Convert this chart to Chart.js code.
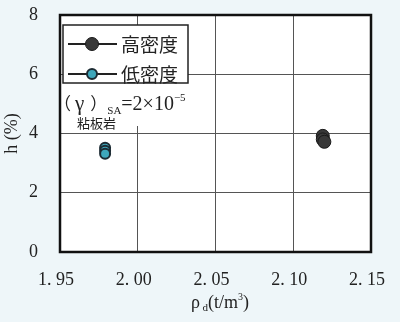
<!DOCTYPE html>
<html>
<head>
<meta charset="utf-8">
<script src="https://cdn.jsdelivr.net/npm/chart.js@4.4.1/dist/chart.umd.min.js"></script>
<style>
  html, body { margin: 0; padding: 0; background: #eef6f9; }
  #Grafico { display: block; }
</style>
</head>
<body>
<canvas id="Grafico" width="400" height="322"></canvas>
<script>
'use strict';
// dados do gráfico
const xTicks = [1.95, 2.00, 2.05, 2.10, 2.15];
const yTicks = [0, 2, 4, 6, 8];
const nomesSeries = ['高密度', '低密度'];
const rhoAlto = [2.119, 2.119, 2.120];
const hAlto = [3.92, 3.80, 3.72];
const rhoBaixo = [1.979, 1.979, 1.979];
const hBaixo = [3.52, 3.42, 3.32];

const serif = "'Liberation Serif', 'Noto Sans CJK JP', serif";
const cjk = "'Noto Sans CJK JP', sans-serif";

function pontos(xs, ys) {
  return xs.map((x, i) => ({ x: x, y: ys[i] }));
}

// escreve uma sequência de trechos (com sub/sobrescrito)
function escreveTrechos(ctx, trechos, x, y, centro) {
  let largura = 0;
  trechos.forEach(t => {
    ctx.font = t.size + 'px ' + (t.fam || serif);
    largura += ctx.measureText(t.t).width + (t.dx || 0);
  });
  let px = centro ? x - largura / 2 : x;
  ctx.textAlign = 'left';
  ctx.textBaseline = 'alphabetic';
  trechos.forEach(t => {
    ctx.font = t.size + 'px ' + (t.fam || serif);
    px += (t.dx || 0);
    ctx.fillText(t.t, px, y + (t.dy || 0));
    px += ctx.measureText(t.t).width;
  });
}

const extras = {
  id: 'extras',
  beforeDraw(chart) {
    const { ctx, chartArea: a } = chart;
    ctx.save();
    ctx.fillStyle = '#ffffff';
    ctx.fillRect(a.left, a.top, a.right - a.left, a.bottom - a.top);
    ctx.restore();
  },
  afterDraw(chart) {
    const { ctx, chartArea: a } = chart;
    ctx.save();
    // moldura
    ctx.strokeStyle = '#111';
    ctx.lineWidth = 2.5;
    ctx.strokeRect(a.left, a.top, a.right - a.left, a.bottom - a.top);

    // legenda
    ctx.fillStyle = '#fff';
    ctx.fillRect(63, 25, 125, 58);
    ctx.lineWidth = 1.5;
    ctx.strokeStyle = '#222';
    ctx.strokeRect(63, 25, 125, 58);
    chart.data.datasets.forEach((ds, i) => {
      const y = 44 + i * 30;
      ctx.strokeStyle = '#222';
      ctx.lineWidth = 2;
      ctx.beginPath();
      ctx.moveTo(68, y);
      ctx.lineTo(117, y);
      ctx.stroke();
      ctx.beginPath();
      ctx.arc(92, y, ds.pointRadius, 0, Math.PI * 2);
      ctx.fillStyle = ds.backgroundColor;
      ctx.fill();
      ctx.lineWidth = ds.borderWidth;
      ctx.strokeStyle = ds.borderColor;
      ctx.stroke();
      ctx.fillStyle = '#222';
      ctx.font = '19px ' + cjk;
      ctx.textAlign = 'left';
      ctx.textBaseline = 'middle';
      ctx.fillText(ds.label, 121, y + 1);
    });

    // anotação
    ctx.fillStyle = '#fff';
    ctx.fillRect(a.left + 2, 84, 130, 42);
    ctx.fillStyle = '#222';
    escreveTrechos(ctx, [
      { t: '（', size: 17, fam: cjk },
      { t: 'γ', size: 21, dx: 4 },
      { t: '）', size: 17, fam: cjk, dx: 6 },
      { t: 'SA', size: 11, dy: 4 },
      { t: '=2×10', size: 20 },
      { t: '−5', size: 11, dy: -9 }
    ], 54, 110, false);
    ctx.font = '13px ' + cjk;
    ctx.textAlign = 'left';
    ctx.textBaseline = 'alphabetic';
    ctx.fillText('粘板岩', 77, 128);

    // título do eixo x
    escreveTrechos(ctx, [
      { t: 'ρ', size: 18 },
      { t: ' d', size: 11, dy: 3 },
      { t: '(t/m', size: 18 },
      { t: '3', size: 10, dy: -8 },
      { t: ')', size: 18 }
    ], 220, 308, true);
    ctx.restore();
  }
};

new Chart(document.getElementById('Grafico'), {
  type: 'scatter',
  data: {
    datasets: [{
      label: nomesSeries[0],
      data: pontos(rhoAlto, hAlto),
      backgroundColor: '#383838',
      borderColor: '#1a1a1a',
      borderWidth: 1,
      pointRadius: 6.5
    }, {
      label: nomesSeries[1],
      data: pontos(rhoBaixo, hBaixo),
      backgroundColor: '#3ea7bb',
      borderColor: '#1c2b33',
      borderWidth: 2,
      pointRadius: 5
    }]
  },
  options: {
    responsive: false,
    animation: false,
    layout: { padding: { left: 1, right: 29, top: 15, bottom: 0 } },
    plugins: {
      legend: { display: false },
      tooltip: { enabled: false }
    },
    scales: {
      x: {
        type: 'linear',
        min: xTicks[0],
        max: xTicks[xTicks.length - 1],
        afterBuildTicks: s => { s.ticks = xTicks.map(v => ({ value: v })); },
        afterFit: s => {
          s.height = 70;
          s.paddingLeft = 0;
          s.paddingRight = 0;
        },
        grid: { color: '#555', lineWidth: 1, drawTicks: false },
        border: { display: false },
        ticks: {
          padding: 17,
          labelOffset: -4,
          color: '#222',
          font: { family: serif, size: 18 },
          callback: v => v.toFixed(2).replace('.', '. ')
        }
      },
      y: {
        type: 'linear',
        min: yTicks[0],
        max: yTicks[yTicks.length - 1],
        afterBuildTicks: s => { s.ticks = yTicks.map(v => ({ value: v })); },
        afterFit: s => {
          s.width = 59;
          s.paddingTop = 0;
          s.paddingBottom = 0;
        },
        grid: { color: '#555', lineWidth: 1, drawTicks: false },
        border: { display: false },
        title: {
          display: true,
          text: 'h (%)',
          color: '#222',
          padding: 0,
          font: { family: serif, size: 18 }
        },
        ticks: {
          padding: 22,
          color: '#222',
          font: { family: serif, size: 18 }
        }
      }
    }
  },
  plugins: [extras]
});
</script>
</body>
</html>
